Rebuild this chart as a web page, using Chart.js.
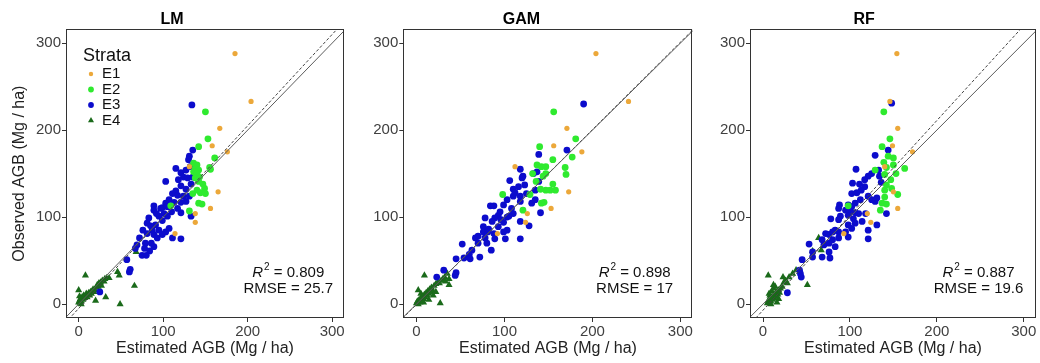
<!DOCTYPE html>
<html>
<head>
<meta charset="utf-8">
<script src="https://cdn.jsdelivr.net/npm/chart.js@4.4.1/dist/chart.umd.min.js"></script>
<style>
  body { margin: 0; background: #fff; width: 1040px; height: 363px; position: relative; overflow: hidden; }
  canvas { position: absolute; top: 0; }
</style>
</head>
<body>
<canvas id="lm" width="350" height="363" style="left:0px"></canvas>
<canvas id="gam" width="350" height="363" style="left:350px"></canvas>
<canvas id="rf" width="350" height="363" style="left:690px"></canvas>
<script>
// panel names and fit statistics
const modelNames = ['LM', 'GAM', 'RF'];
const r2Values = ['0.809', '0.898', '0.887'];
const rmseValues = ['25.7', '17', '19.6'];
// dashed fit line (observed ~ estimated): [slope, intercept]
const fitLines = [[1.05, -5], [1.005, -0.5], [1.09, -7]];
const tickValues = [0, 100, 200, 300];
const strata = ['E1', 'E2', 'E3', 'E4'];

// points as [estimated, observed] (Mg/ha)
const lmE1 = [[185,288],[204,233],[167,202],[158,182],[176,175],[131,158],[165,129],[156,110],[138,104],[138,94],[114,81]];
const lmE2 = [[150,221],[153,190],[142,181],[161,168],[155,157],[136,162],[140,160],[138,156],[142,154],[136,152],[140,150],[143,146],[138,145],[142,141],[147,138],[149,133],[140,131],[144,128],[135,127],[150,127],[142,116],[146,115],[131,107],[109,113],[156,155]];
const lmE3 = [[134,229],[135,177],[131,170],[130,166],[132,158],[115,156],[121,151],[127,154],[124,146],[129,145],[118,143],[135,146],[133,138],[103,141],[121,136],[115,130],[127,132],[111,127],[117,125],[124,124],[131,124],[107,120],[113,117],[121,117],[127,118],[103,116],[89,113],[99,111],[110,106],[121,105],[133,101],[101,104],[105,101],[89,108],[95,101],[99,96],[83,99],[91,91],[81,93],[87,85],[95,85],[103,83],[107,87],[76,85],[81,81],[89,80],[99,80],[111,76],[121,75],[72,76],[79,70],[86,70],[93,76],[69,68],[89,66],[78,64],[84,61],[75,56],[80,56],[67,64],[57,51],[61,40],[60,37],[25,14],[97,110],[105,112],[92,104],[85,90],[117,110]];
const lmE4 = [[0,2],[1,4],[2,1],[2,6],[3,3],[4,8],[5,5],[6,10],[7,7],[8,9],[9,12],[10,8],[11,11],[12,13],[13,10],[14,14],[15,12],[16,15],[17,17],[18,14],[19,16],[21,19],[22,22],[23,20],[24,24],[25,23],[26,25],[27,21],[28,27],[30,26],[31,29],[33,30],[36,30],[46,37],[48,33],[0,16],[8,33],[66,21],[49,0],[32,8],[20,4],[68,60],[3,0],[1,9]];

const gamE1 = [[204,288],[241,233],[171,202],[156,182],[188,175],[112,158],[173,129],[153,110],[126,104],[124,94],[92,81]];
const gamE2 = [[156,221],[181,190],[140,181],[155,166],[177,169],[169,157],[170,149],[137,160],[142,158],[147,158],[132,150],[147,150],[144,147],[155,138],[152,131],[147,131],[141,132],[129,126],[98,126],[145,117],[142,116],[121,108],[158,131],[136,141]];
const gamE3 = [[190,230],[171,177],[139,172],[118,155],[121,147],[137,152],[106,142],[133,150],[139,141],[123,137],[110,132],[116,135],[135,131],[125,127],[118,124],[110,124],[103,120],[131,116],[135,120],[118,118],[99,114],[84,113],[88,113],[108,110],[95,106],[110,104],[141,105],[93,102],[103,100],[89,99],[78,99],[118,95],[99,94],[86,95],[76,89],[93,89],[103,85],[76,83],[67,76],[81,83],[88,81],[99,83],[70,78],[78,76],[89,75],[101,75],[118,75],[70,70],[80,70],[52,69],[63,62],[60,57],[85,62],[72,54],[45,52],[54,53],[61,52],[31,39],[45,36],[44,33],[23,31],[112,128],[96,97],[128,90],[82,86],[120,145],[105,101]];
const gamE4 = [[0,1],[1,3],[2,0],[3,5],[4,2],[5,7],[6,4],[7,9],[8,6],[9,11],[10,8],[11,13],[12,10],[13,15],[14,12],[15,17],[16,14],[17,19],[18,16],[20,21],[22,23],[24,25],[26,24],[28,27],[30,29],[32,31],[35,35],[37,29],[37,22],[9,33],[2,16],[27,1],[19,10],[14,5],[22,14],[5,12],[8,2],[33,26]];

const rfE1 = [[154,288],[146,233],[155,202],[149,182],[172,175],[140,158],[150,129],[155,110],[120,104],[124,94],[93,81]];
const rfE2 = [[139,221],[146,190],[137,181],[150,168],[144,170],[139,163],[142,157],[163,156],[153,150],[129,154],[140,149],[147,143],[142,137],[148,133],[140,131],[155,126],[140,123],[137,116],[142,115],[135,108],[98,113],[150,160]];
const rfE3 = [[148,231],[144,177],[129,171],[107,155],[121,147],[117,143],[125,150],[133,154],[134,147],[103,139],[111,138],[117,135],[102,127],[113,131],[121,124],[125,120],[129,118],[131,122],[142,104],[106,116],[102,112],[98,114],[88,114],[87,110],[100,106],[106,105],[110,104],[118,104],[98,102],[104,98],[89,101],[87,97],[114,95],[78,98],[106,93],[131,91],[98,91],[83,85],[72,81],[76,80],[80,83],[87,83],[95,83],[102,87],[98,77],[121,85],[121,75],[87,76],[80,74],[68,74],[70,68],[76,70],[83,66],[53,69],[57,60],[76,60],[68,54],[77,53],[45,51],[57,54],[42,39],[43,35],[44,31],[28,13],[112,120],[95,108],[136,140],[108,128]];
const rfE4 = [[5,1],[6,4],[7,2],[8,6],[9,3],[10,8],[11,5],[12,10],[13,7],[14,12],[15,9],[16,14],[17,11],[18,16],[19,13],[20,18],[8,10],[10,15],[12,18],[14,20],[9,0],[16,2],[22,20],[24,25],[26,27],[28,24],[30,31],[34,35],[38,39],[23,31],[6,33],[51,22],[64,76],[57,61],[67,62],[12,22],[18,6],[7,12]];

const panelPoints = [[lmE1, lmE2, lmE3, lmE4], [gamE1, gamE2, gamE3, gamE4], [rfE1, rfE2, rfE3, rfE4]];

// styles
const FONT = '"Liberation Sans", Arial, sans-serif';
const strataColors = ['#ECA83A', '#2FEA2F', '#0C0CCC', '#1A6A1A'];
const strataShapes = ['circle', 'circle', 'circle', 'triangle'];
const strataRadius = [2.6, 3.4, 3.4, 4.1];
const axisMin = { x: -15, y: -16 };
const axisMax = { x: 314, y: 316 };

// border, R2/RMSE labels and the legend drawn into the plot area
const panelPlugin = {
  id: 'panel',
  afterDraw(chart, args, o) {
    const { ctx, chartArea: a, scales } = chart;
    ctx.save();
    ctx.strokeStyle = '#333';
    ctx.lineWidth = 1;
    ctx.strokeRect(Math.round(a.left) + 0.5, Math.round(a.top) + 0.5, Math.round(a.width) - 1, Math.round(a.height) - 1);

    const cx = scales.x.getPixelForValue(o.statX);
    ctx.fillStyle = '#111';
    ctx.textBaseline = 'middle';
    ctx.textAlign = 'left';
    const rest = ' = ' + o.r2;
    ctx.font = 'italic 15px ' + FONT;
    const wR = ctx.measureText('R').width;
    ctx.font = '10px ' + FONT;
    const w2 = ctx.measureText('2').width;
    ctx.font = '15px ' + FONT;
    const wRest = ctx.measureText(rest).width;
    let x0 = cx - (wR + w2 + 1 + wRest) / 2;
    const y1 = scales.y.getPixelForValue(o.r2Y);
    ctx.font = 'italic 15px ' + FONT;
    ctx.fillText('R', x0, y1);
    ctx.font = '10px ' + FONT;
    ctx.fillText('2', x0 + wR + 1, y1 - 6);
    ctx.font = '15px ' + FONT;
    ctx.fillText(rest, x0 + wR + w2 + 1, y1);
    ctx.textAlign = 'center';
    ctx.fillText('RMSE = ' + o.rmse, cx, scales.y.getPixelForValue(o.rmseY));

    if (o.legend) {
      const L = o.legend;
      ctx.textAlign = 'left';
      ctx.font = '18px ' + FONT;
      ctx.fillText('Strata', L.x, L.y);
      chart.data.datasets.filter(d => d.stratum).forEach((d, i) => {
        const yy = L.y + L.first + i * L.step;
        ctx.fillStyle = d.backgroundColor;
        Chart.helpers.drawPoint(ctx, { pointStyle: d.pointStyle, radius: d.pointRadius * 0.85, borderWidth: 0, rotation: 0 }, L.symX, yy);
        ctx.fillStyle = '#111';
        ctx.font = '15px ' + FONT;
        ctx.fillText(d.label, L.textX, yy);
      });
    }
    ctx.restore();
  }
};

function lineThrough(slope, intercept) {
  return [-20, 320].map(x => ({ x: x, y: slope * x + intercept }));
}

function makePanel(id, i, axisWidth, padRight, yTitle, legend) {
  const pts = panelPoints[i];
  const datasets = [
    { label: '1:1', data: lineThrough(1, 0), showLine: true, pointRadius: 0, borderColor: '#5c5c5c', borderWidth: 1, order: 0 },
    { label: 'fit', data: lineThrough(fitLines[i][0], fitLines[i][1]), showLine: true, pointRadius: 0, borderColor: '#444', borderWidth: 1, borderDash: [3, 2], order: 0 }
  ];
  strata.forEach((s, k) => {
    datasets.push({
      label: s,
      stratum: true,
      data: pts[k].map(p => ({ x: p[0], y: p[1] })),
      backgroundColor: strataColors[k],
      borderWidth: 0,
      pointStyle: strataShapes[k],
      pointRadius: strataRadius[k],
      order: k + 1
    });
  });

  const tickFont = { family: FONT, size: 15 };
  return new Chart(document.getElementById(id), {
    type: 'scatter',
    data: { datasets: datasets },
    options: {
      responsive: false,
      animation: false,
      layout: { padding: { left: 0, right: padRight, top: 0, bottom: 0 } },
      plugins: {
        legend: { display: false },
        tooltip: { enabled: false },
        title: {
          display: true, text: modelNames[i], color: '#000',
          font: { family: FONT, size: 16, weight: 'bold' },
          padding: { top: 10, bottom: 0 }
        },
        panel: {
          statX: 248, r2Y: 36, rmseY: 17,
          r2: r2Values[i], rmse: rmseValues[i],
          legend: legend
        }
      },
      scales: {
        x: {
          type: 'linear', min: axisMin.x, max: axisMax.x,
          afterBuildTicks: s => { s.ticks = tickValues.map(v => ({ value: v })); },
          afterFit: s => { s.height = 45; },
          ticks: { color: '#404040', font: tickFont, padding: 1, maxRotation: 0, autoSkip: false },
          grid: { drawOnChartArea: false, drawTicks: true, tickLength: 4, color: '#333' },
          border: { display: false },
          title: {
            display: true, text: 'Estimated AGB (Mg / ha)', color: '#222',
            font: { family: FONT, size: 16 }, padding: { top: 0, bottom: 5 }
          }
        },
        y: {
          type: 'linear', min: axisMin.y, max: axisMax.y,
          afterBuildTicks: s => { s.ticks = tickValues.map(v => ({ value: v })); },
          afterFit: s => { s.width = axisWidth; },
          ticks: { color: '#404040', font: tickFont, padding: 1, autoSkip: false },
          grid: { drawOnChartArea: false, drawTicks: true, tickLength: 4, color: '#333' },
          border: { display: false },
          title: {
            display: yTitle, text: 'Observed AGB (Mg / ha)', color: '#222',
            font: { family: FONT, size: 16 }, padding: { top: 10, bottom: 0 }
          }
        }
      }
    },
    plugins: [panelPlugin]
  });
}

makePanel('lm', 0, 66, 6, true, { x: 83, y: 56, first: 18, step: 15.5, symX: 91, textX: 102 });
makePanel('gam', 1, 53.3, 7.3, false, null);
makePanel('rf', 2, 60, 1.7, false, null);
</script>
</body>
</html>
